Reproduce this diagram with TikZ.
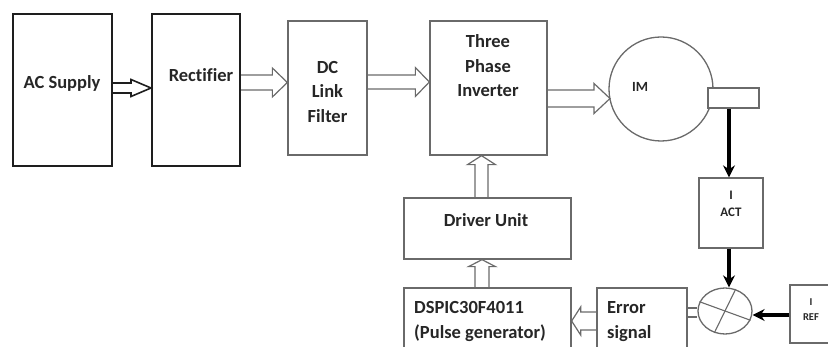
\documentclass[tikz,border=0pt]{standalone}
\usepackage{fontspec}
\setmainfont[Ligatures=NoCommon]{Carlito}
\usetikzlibrary{calc,arrows.meta,shapes.geometric}
\definecolor{boxgray}{HTML}{6A6A6A}
\definecolor{boxdark}{HTML}{1E1E1E}
\definecolor{txt}{HTML}{262626}
\tikzset{
  gbox/.style={draw=boxgray, line width=1.3pt, fill=white, rectangle, inner sep=0pt},
  dbox/.style={draw=boxdark, line width=2pt, rectangle, inner sep=0pt},
  lbl/.style={text=txt, font=\bfseries\fontsize{18.5}{24.5}\selectfont, inner sep=0pt, align=center},
  slbl/.style={text=txt, font=\bfseries\fontsize{13}{17}\selectfont, inner sep=0pt, align=center},
  harrow/.style={draw=boxgray, line width=1.2pt, line join=miter},
  blackarrow/.style={draw=black, line width=3.2pt, -{Stealth[length=12pt,width=12pt]}},
}
% hollow block arrow: [opts]{start}{end}{shaft half width}{head half width}{head length}
\newcommand{\hollowarr}[6][]{%
  \coordinate (hs) at (#2);
  \coordinate (he) at (#3);
  \coordinate (hp) at ($(he)!#6!(hs)$);
  \draw[harrow,#1] ($(hs)!#4!90:(he)$) -- ($(hp)!#4!90:(he)$) -- ($(hp)!#5!90:(he)$)
     -- (he) -- ($(hp)!#5!-90:(he)$) -- ($(hp)!#4!-90:(he)$) -- ($(hs)!#4!-90:(he)$);
}
\begin{document}
\begin{tikzpicture}[x=1pt,y=-1pt]
\useasboundingbox (0,0) rectangle (828,347);
\clip (0,0) rectangle (828,347);
% boxes
\node[dbox, minimum width=99pt, minimum height=152pt] (ac) at (62.5,90) {};
\node[dbox, minimum width=88pt, minimum height=152pt] (rect) at (196,90) {};
\node[gbox, minimum width=79pt, minimum height=134pt] (dc) at (327.5,88) {};
\node[gbox, minimum width=117pt, minimum height=134pt] (inv) at (488.5,88) {};
\node[gbox, circle, minimum size=104pt] (im) at (661,89) {};
\node[gbox, minimum width=51pt, minimum height=20pt] (shaft) at (733.5,98) {};
\node[gbox, minimum width=64pt, minimum height=70pt] (iact) at (731,213) {};
\node[gbox, ellipse, minimum width=54pt, minimum height=46pt] (sum) at (725,311) {};
\node[gbox, minimum width=50pt, minimum height=58pt] (iref) at (815,314) {};
\node[gbox, minimum width=90pt, minimum height=70pt] (err) at (642,323) {};
\node[gbox, minimum width=167pt, minimum height=70pt] (dsp) at (487.5,323) {};
\node[gbox, minimum width=167pt, minimum height=61pt] (drv) at (487.5,228.5) {};
% labels
\node[lbl] (tac) at (62,83) {AC Supply};
\node[lbl] (trect) at (201,75) {Rectifier};
\node[lbl] (tdc) at (327.5,92) {DC\\Link\\Filter};
\node[lbl] (tinv) at (488,66) {Three\\Phase\\Inverter};
\node[lbl, font=\bfseries\fontsize{14}{17}\selectfont] (tim) at (640,87) {IM};
\node[lbl] (tdrv) at (486,220) {Driver Unit};
\node[lbl, align=left, anchor=west] (tdsp) at (414,321.5) {DSPIC30F4011\\(Pulse generator)};
\node[lbl, align=left, anchor=west] (terr) at (607,321.5) {Error\\signal};
\node[slbl] (tiact) at (731,203.5) {I\\ACT};
\node[slbl, font=\bfseries\fontsize{10.5}{15}\selectfont] (tiref) at (811,309.5) {I\\REF};
% sum cross
\draw[draw=boxgray, line width=1.1pt] (sum.160) -- (sum.-20);
\draw[draw=boxgray, line width=1.1pt] (sum.64) -- (sum.244);
% hollow arrows
\hollowarr[draw=boxdark, line width=1.6pt]{ac.east |- 0,88}{rect.west |- 0,88}{5pt}{8.5pt}{20pt}
\hollowarr{rect.east |- 0,82.5}{dc.west |- 0,82.5}{7.5pt}{14.5pt}{15pt}
\hollowarr{dc.east |- 0,82}{inv.west |- 0,82}{7pt}{14.5pt}{14pt}
\hollowarr{inv.east |- 0,98.5}{610,98.5}{8.5pt}{15pt}{16pt}
\hollowarr{drv.north -| 481.5,0}{inv.south -| 481.5,0}{6.5pt}{14pt}{9pt}
\hollowarr{dsp.north -| 482,0}{drv.south -| 482,0}{7pt}{13.5pt}{7pt}
\hollowarr{err.west |- 0,321}{dsp.east |- 0,321}{9pt}{14pt}{9pt}
\draw[draw=boxgray, line width=1.2pt] (err.east |- 0,308) -- (sum.west |- 0,308);
\draw[draw=boxgray, line width=1.2pt] (err.east |- 0,317) -- (sum.west |- 0,317);
% black arrows
\draw[blackarrow] (shaft.south -| 729,0) -- (iact.north -| 729,0);
\draw[blackarrow] (iact.south -| 729,0) -- (sum.north -| 729,0);
\draw[blackarrow] (iref.west |- 0,315) -- (sum.east |- 0,315);
\end{tikzpicture}
\end{document}
